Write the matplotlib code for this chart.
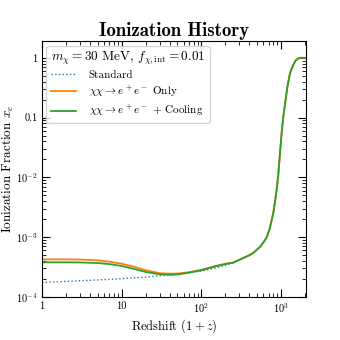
import numpy as np
import matplotlib
matplotlib.use("Agg")
import matplotlib.pyplot as plt
from matplotlib.ticker import FixedLocator, FixedFormatter, LogLocator, NullFormatter

plt.rcParams['font.family'] = 'serif'
plt.rcParams['font.serif'] = ['cmr10']
plt.rcParams['mathtext.fontset'] = 'cm'
plt.rcParams['axes.unicode_minus'] = False

# redshift grid (1+z)
rs_low = np.array([1, 2, 3, 5, 7, 10, 15, 20, 30, 40, 50, 70, 100, 150, 200])
# recombination part, common to all three curves
rs_high = np.array([250, 300, 350, 400, 450, 550, 600, 660, 720, 795, 840,
                    880, 920, 975, 1020, 1066, 1150, 1200, 1290, 1350, 1420,
                    1520, 1650, 1750, 2100])
xe_high = np.array([3.75e-4, 4.2e-4, 4.6e-4, 5.0e-4, 5.5e-4, 7.0e-4, 8.2e-4,
                    1.0e-3, 1.4e-3, 2.5e-3, 4.0e-3, 6.3e-3, 1.1e-2, 2.9e-2,
                    6.0e-2, 0.105, 0.22, 0.33, 0.55, 0.65, 0.76, 0.9, 0.98,
                    1.0, 1.0])

xe_std_low = np.array([1.75e-4, 1.82e-4, 1.87e-4, 1.93e-4, 1.97e-4, 2.02e-4,
                       2.1e-4, 2.15e-4, 2.27e-4, 2.35e-4, 2.42e-4, 2.55e-4,
                       2.72e-4, 3.05e-4, 3.4e-4])
xe_ann_low = np.array([4.25e-4, 4.25e-4, 4.23e-4, 4.1e-4, 3.9e-4, 3.6e-4,
                       3.15e-4, 2.8e-4, 2.5e-4, 2.45e-4, 2.47e-4, 2.6e-4,
                       2.85e-4, 3.3e-4, 3.6e-4])
xe_cool_low = np.array([3.8e-4, 3.8e-4, 3.78e-4, 3.7e-4, 3.55e-4, 3.3e-4,
                        2.9e-4, 2.62e-4, 2.4e-4, 2.35e-4, 2.38e-4, 2.55e-4,
                        2.8e-4, 3.25e-4, 3.55e-4])

rs = np.concatenate([rs_low, rs_high])
xe_std = np.concatenate([xe_std_low, xe_high])
xe_ann = np.concatenate([xe_ann_low, xe_high])
xe_cool = np.concatenate([xe_cool_low, xe_high])

xticks = [1, 10, 100, 1000]
xticklabels = ['1', '10', r'$10^2$', r'$10^3$']
yticks = [1e-4, 1e-3, 1e-2, 0.1, 1]
yticklabels = [r'$10^{-4}$', r'$10^{-3}$', r'$10^{-2}$', '0.1', '1']

fig = plt.figure(figsize=(3.4, 3.4), dpi=100)
ax = fig.add_axes([0.1235, 0.1265, 0.7765, 0.7525])

ax.plot(rs, xe_std, ':', color='C0', lw=1.0, label='Standard')
ax.plot(rs, xe_ann, color='C1', lw=1.3, label=r'$\chi\chi \to e^+e^-$ Only')
ax.plot(rs, xe_cool, color='C2', lw=1.3, label=r'$\chi\chi \to e^+e^-$ + Cooling')

ax.set_xscale('log')
ax.set_yscale('log')
ax.set_xlim(1, 2050)
ax.set_ylim(1e-4, 1.9)

ax.xaxis.set_major_locator(FixedLocator(xticks))
ax.xaxis.set_major_formatter(FixedFormatter(xticklabels))
ax.yaxis.set_major_locator(FixedLocator(yticks))
ax.yaxis.set_major_formatter(FixedFormatter(yticklabels))
ax.xaxis.set_minor_locator(LogLocator(base=10, subs=np.arange(2, 10), numticks=20))
ax.yaxis.set_minor_locator(LogLocator(base=10, subs=np.arange(2, 10), numticks=20))
ax.xaxis.set_minor_formatter(NullFormatter())
ax.yaxis.set_minor_formatter(NullFormatter())
ax.tick_params(which='both', direction='in', top=True, right=True, labelsize=7.5, pad=3)
ax.tick_params(which='major', length=6)
ax.tick_params(which='minor', length=3)

ax.set_xlabel(r'Redshift $(1+z)$', fontsize=9, labelpad=2)
ax.set_ylabel(r'Ionization Fraction $x_e$', fontsize=9.5)
ax.yaxis.set_label_coords(-0.1, 0.5)
ax.set_title('Ionization History', fontname='cmb10', fontsize=13.5, pad=4)

leg = ax.legend(loc='upper left', fontsize=8,
                title=r'$m_\chi = 30$ MeV, $f_{\chi,\rm int} = 0.01$',
                title_fontsize=9.5, borderaxespad=0.4, labelspacing=0.3,
                handlelength=2.3, handletextpad=1.1)
leg._legend_box.align = 'left'

fig.savefig('out.png', dpi=100)
